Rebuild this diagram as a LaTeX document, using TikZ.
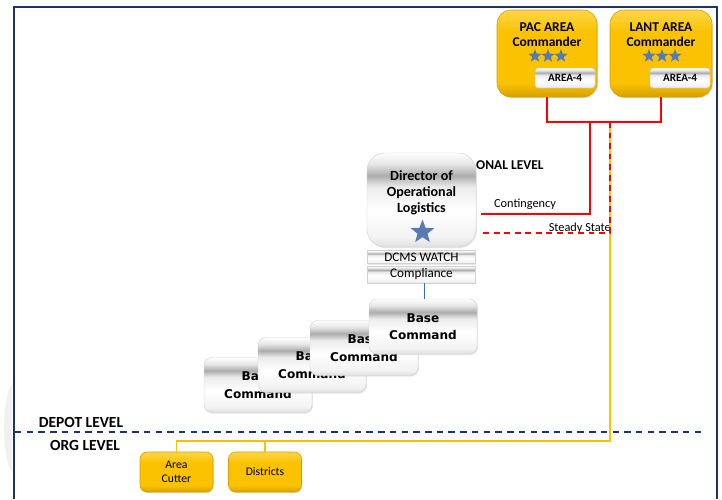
\documentclass[tikz,border=0pt]{standalone}
\usepackage{fontspec}
\setmainfont{Carlito}
\newfontfamily\verdfont{DejaVu Sans}
\usetikzlibrary{positioning,shapes.geometric,shadows}

\newlength\pxu
\setlength\pxu{0.03cm}

\definecolor{navy}{RGB}{31,48,110}
\definecolor{goldmid}{RGB}{250,194,0}
\definecolor{goldtop}{RGB}{255,214,72}
\definecolor{goldedge}{RGB}{214,160,0}
\definecolor{starblue}{RGB}{88,122,180}
\definecolor{linkblue}{RGB}{50,105,205}
\definecolor{amber}{RGB}{255,192,0}

\pgfdeclareverticalshading{goldgrad}{100bp}{color(0bp)=(goldedge); color(25bp)=(goldedge); color(33bp)=(goldmid); color(62bp)=(goldmid); color(75bp)=(goldtop); color(100bp)=(goldtop)}
\pgfdeclareverticalshading{steelgrad}{100bp}{color(0bp)=(gray!25); color(25bp)=(gray!25); color(30bp)=(gray!10); color(45bp)=(white); color(57bp)=(gray!15); color(63bp)=(gray!65); color(69bp)=(gray!20); color(75bp)=(white); color(100bp)=(white)}

\tikzset{
  goldbox/.style={rounded corners=14\pxu, shading=goldgrad, draw=goldedge, line width=0.5pt,
    drop shadow={opacity=0.25, shadow xshift=0.8pt, shadow yshift=-1pt}},
  lowbox/.style={goldbox, rounded corners=7\pxu, minimum width=73\pxu, minimum height=40\pxu,
    inner sep=0pt, align=center, font=\fontsize{10}{12}\selectfont},
  tabbox/.style={rounded corners=3\pxu, shading=steelgrad, draw=gray!45, minimum width=60\pxu,
    minimum height=20\pxu, inner sep=0pt, font=\fontsize{9.5}{10}\selectfont\bfseries},
  steelbox/.style={shading=steelgrad, draw=gray!35, line width=0.4pt,
    drop shadow={opacity=0.2, shadow xshift=0.8pt, shadow yshift=-1pt}},
  stripbox/.style={steelbox, minimum width=108\pxu, inner sep=0pt, font=\fontsize{11.2}{11}\selectfont},
  basebox/.style={steelbox, rounded corners=8\pxu, minimum width=108\pxu, minimum height=55\pxu,
    inner sep=0pt, align=center, font=\verdfont\bfseries\fontsize{10.3}{15}\selectfont},
  rankstar/.style={star, star points=5, star point ratio=2.4, fill=starblue, inner sep=0pt, minimum size=14\pxu},
  level/.style={font=\bfseries\fontsize{13.2}{14}\selectfont},
  redline/.style={red, line width=1.5pt},
  reddash/.style={red, line width=1.5pt, dash pattern=on 5pt off 4pt},
  amberline/.style={amber, line width=1.5pt}
}

\begin{document}
\begin{tikzpicture}[x=\pxu, y=-\pxu]
  \useasboundingbox (0,0) rectangle (722,499);

  % slide background and frame
  \begin{scope}
    \clip (0,0) rectangle (12,499);
    \fill[gray!12] (18,428) circle [x radius=14\pxu, y radius=50\pxu];
  \end{scope}
  \draw[navy, line width=2.4pt] (14,499) |- (717,7) -- (717,499);

  % area commanders
  \node (pac)  [goldbox, minimum width=100\pxu, minimum height=87\pxu] at (547,53.5) {};
  \node (lant) [goldbox, minimum width=102\pxu, minimum height=87\pxu] at (661,53.5) {};
  \node (pactxt)  [align=center, font=\bfseries\fontsize{11.5}{13}\selectfont] at (547,35) {PAC AREA\\Commander};
  \node (lanttxt) [align=center, font=\bfseries\fontsize{11.5}{13}\selectfont] at (661,35) {LANT AREA\\Commander};
  \node (pacs1)  [rankstar] at (535,56) {};
  \node (pacs2)  [rankstar] at (548,56) {};
  \node (pacs3)  [rankstar] at (561,56) {};
  \node (lants1) [rankstar] at (649,56) {};
  \node (lants2) [rankstar] at (662,56) {};
  \node (lants3) [rankstar] at (675,56) {};
  \node (pactab)  [tabbox] at (565,78) {AREA-4};
  \node (lanttab) [tabbox] at (680,78) {AREA-4};

  % operational level
  \node (oplvl) [anchor=west, inner sep=0pt, font=\bfseries\fontsize{11.5}{13}\selectfont] at (476,165) {ONAL LEVEL};
  \node (dir)     [steelbox, rounded corners=18\pxu, minimum width=109\pxu, minimum height=94\pxu] at (421.5,200) {};
  \node (dirtxt)  [align=center, font=\bfseries\fontsize{12}{13.6}\selectfont] at (421.5,193) {Director of\\Operational\\Logistics};
  \node (dirstar) [rankstar, minimum size=25\pxu] at (422.5,232) {};
  \node (watch)   [stripbox, minimum height=13\pxu, below=3\pxu of dir] {DCMS WATCH};
  \node (comp)    [stripbox, minimum height=17\pxu, below=2\pxu of watch] {Compliance};

  \node (cont)   [inner sep=0pt, font=\fontsize{10.5}{12}\selectfont] at (525,204) {Contingency};
  \node (steady) [inner sep=0pt, font=\fontsize{10.5}{12}\selectfont, anchor=east] at (611,228) {Steady State};

  % base commands
  \node (base1) [basebox] at (258,385)   {Base\\Command};
  \node (base2) [basebox] at (312,365)   {Base\\Command};
  \node (base3) [basebox] at (364,348)   {Base\\Command};
  \node (base4) [basebox] at (423,326.5) {Base\\Command};

  % levels
  \node (depot) [level] at (81,422) {DEPOT LEVEL};
  \node (org)   [level] at (85,445) {ORG LEVEL};
  \draw[navy, line width=1.3pt, dash pattern=on 5.5pt off 4.5pt] (15,432) -- (706,432);

  % org level units
  \node (cutter)    [lowbox] at (176.5,472) {Area\\Cutter};
  \node (districts) [lowbox] at (265,472)   {Districts};

  % connectors
  \coordinate (redtee) at (590,122);
  \coordinate (amtee)  at (610,122);
  \coordinate (orgbus) at (610,441);

  \draw [amberline] (amtee) -- (orgbus) -| (cutter.north);
  \draw [amberline] (districts.north) -- (districts.north |- orgbus);
  \draw [redline]   (pac.south) |- (redtee) -| (lant.south);
  \draw [redline]   (redtee) |- ([xshift=5\pxu, yshift=-14\pxu]dir.east);
  \draw [reddash]   (amtee) |- ([xshift=5\pxu, yshift=-33\pxu]dir.east);
  \draw [linkblue, line width=1.5pt] ([xshift=3\pxu]comp.south) -- ([xshift=3\pxu]comp.south |- base4.north);
\end{tikzpicture}
\end{document}
